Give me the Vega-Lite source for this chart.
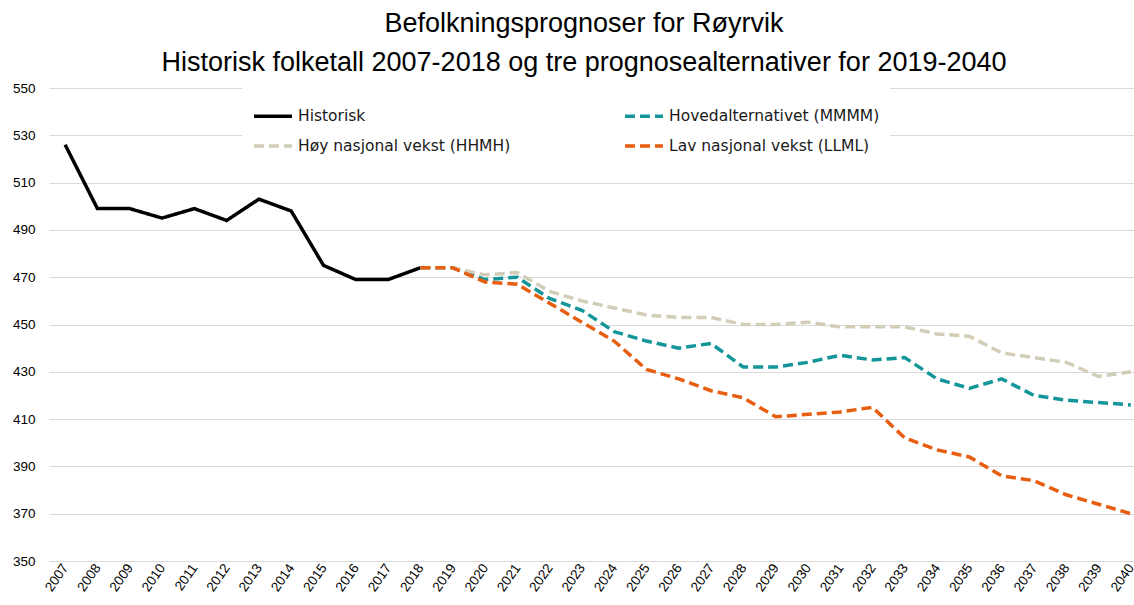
{
  "$schema": "https://vega.github.io/schema/vega-lite/v6.json",
  "width": 1098,
  "height": 473,
  "padding": {"left": 12, "top": 10, "right": 0, "bottom": 0},
  "background": "white",
  "title": {
    "text": ["Befolkningsprognoser for Røyrvik", "Historisk folketall 2007-2018 og tre prognosealternativer for 2019-2040"],
    "font": "Liberation Sans",
    "fontSize": 27,
    "fontWeight": "normal",
    "color": "#000000",
    "anchor": "middle",
    "dx": -14,
    "lineHeight": 39,
    "offset": 4
  },
  "config": {"view": {"stroke": null}},
  "data": {
    "values": [
      {"year": 2007, "series": "Historisk", "value": 526},
      {"year": 2008, "series": "Historisk", "value": 499},
      {"year": 2009, "series": "Historisk", "value": 499},
      {"year": 2010, "series": "Historisk", "value": 495},
      {"year": 2011, "series": "Historisk", "value": 499},
      {"year": 2012, "series": "Historisk", "value": 494},
      {"year": 2013, "series": "Historisk", "value": 503},
      {"year": 2014, "series": "Historisk", "value": 498},
      {"year": 2015, "series": "Historisk", "value": 475},
      {"year": 2016, "series": "Historisk", "value": 469},
      {"year": 2017, "series": "Historisk", "value": 469},
      {"year": 2018, "series": "Historisk", "value": 474},

      {"year": 2018, "series": "Hovedalternativet (MMMM)", "value": 474},
      {"year": 2019, "series": "Hovedalternativet (MMMM)", "value": 474},
      {"year": 2020, "series": "Hovedalternativet (MMMM)", "value": 469},
      {"year": 2021, "series": "Hovedalternativet (MMMM)", "value": 470},
      {"year": 2022, "series": "Hovedalternativet (MMMM)", "value": 461},
      {"year": 2023, "series": "Hovedalternativet (MMMM)", "value": 456},
      {"year": 2024, "series": "Hovedalternativet (MMMM)", "value": 447},
      {"year": 2025, "series": "Hovedalternativet (MMMM)", "value": 443},
      {"year": 2026, "series": "Hovedalternativet (MMMM)", "value": 440},
      {"year": 2027, "series": "Hovedalternativet (MMMM)", "value": 442},
      {"year": 2028, "series": "Hovedalternativet (MMMM)", "value": 432},
      {"year": 2029, "series": "Hovedalternativet (MMMM)", "value": 432},
      {"year": 2030, "series": "Hovedalternativet (MMMM)", "value": 434},
      {"year": 2031, "series": "Hovedalternativet (MMMM)", "value": 437},
      {"year": 2032, "series": "Hovedalternativet (MMMM)", "value": 435},
      {"year": 2033, "series": "Hovedalternativet (MMMM)", "value": 436},
      {"year": 2034, "series": "Hovedalternativet (MMMM)", "value": 427},
      {"year": 2035, "series": "Hovedalternativet (MMMM)", "value": 423},
      {"year": 2036, "series": "Hovedalternativet (MMMM)", "value": 427},
      {"year": 2037, "series": "Hovedalternativet (MMMM)", "value": 420},
      {"year": 2038, "series": "Hovedalternativet (MMMM)", "value": 418},
      {"year": 2039, "series": "Hovedalternativet (MMMM)", "value": 417},
      {"year": 2040, "series": "Hovedalternativet (MMMM)", "value": 416},

      {"year": 2018, "series": "Høy nasjonal vekst (HHMH)", "value": 474},
      {"year": 2019, "series": "Høy nasjonal vekst (HHMH)", "value": 474},
      {"year": 2020, "series": "Høy nasjonal vekst (HHMH)", "value": 471},
      {"year": 2021, "series": "Høy nasjonal vekst (HHMH)", "value": 472},
      {"year": 2022, "series": "Høy nasjonal vekst (HHMH)", "value": 464},
      {"year": 2023, "series": "Høy nasjonal vekst (HHMH)", "value": 460},
      {"year": 2024, "series": "Høy nasjonal vekst (HHMH)", "value": 457},
      {"year": 2025, "series": "Høy nasjonal vekst (HHMH)", "value": 454},
      {"year": 2026, "series": "Høy nasjonal vekst (HHMH)", "value": 453},
      {"year": 2027, "series": "Høy nasjonal vekst (HHMH)", "value": 453},
      {"year": 2028, "series": "Høy nasjonal vekst (HHMH)", "value": 450},
      {"year": 2029, "series": "Høy nasjonal vekst (HHMH)", "value": 450},
      {"year": 2030, "series": "Høy nasjonal vekst (HHMH)", "value": 451},
      {"year": 2031, "series": "Høy nasjonal vekst (HHMH)", "value": 449},
      {"year": 2032, "series": "Høy nasjonal vekst (HHMH)", "value": 449},
      {"year": 2033, "series": "Høy nasjonal vekst (HHMH)", "value": 449},
      {"year": 2034, "series": "Høy nasjonal vekst (HHMH)", "value": 446},
      {"year": 2035, "series": "Høy nasjonal vekst (HHMH)", "value": 445},
      {"year": 2036, "series": "Høy nasjonal vekst (HHMH)", "value": 438},
      {"year": 2037, "series": "Høy nasjonal vekst (HHMH)", "value": 436},
      {"year": 2038, "series": "Høy nasjonal vekst (HHMH)", "value": 434},
      {"year": 2039, "series": "Høy nasjonal vekst (HHMH)", "value": 428},
      {"year": 2040, "series": "Høy nasjonal vekst (HHMH)", "value": 430},

      {"year": 2018, "series": "Lav nasjonal vekst (LLML)", "value": 474},
      {"year": 2019, "series": "Lav nasjonal vekst (LLML)", "value": 474},
      {"year": 2020, "series": "Lav nasjonal vekst (LLML)", "value": 468},
      {"year": 2021, "series": "Lav nasjonal vekst (LLML)", "value": 467},
      {"year": 2022, "series": "Lav nasjonal vekst (LLML)", "value": 459},
      {"year": 2023, "series": "Lav nasjonal vekst (LLML)", "value": 451},
      {"year": 2024, "series": "Lav nasjonal vekst (LLML)", "value": 443},
      {"year": 2025, "series": "Lav nasjonal vekst (LLML)", "value": 431},
      {"year": 2026, "series": "Lav nasjonal vekst (LLML)", "value": 427},
      {"year": 2027, "series": "Lav nasjonal vekst (LLML)", "value": 422},
      {"year": 2028, "series": "Lav nasjonal vekst (LLML)", "value": 419},
      {"year": 2029, "series": "Lav nasjonal vekst (LLML)", "value": 411},
      {"year": 2030, "series": "Lav nasjonal vekst (LLML)", "value": 412},
      {"year": 2031, "series": "Lav nasjonal vekst (LLML)", "value": 413},
      {"year": 2032, "series": "Lav nasjonal vekst (LLML)", "value": 415},
      {"year": 2033, "series": "Lav nasjonal vekst (LLML)", "value": 402},
      {"year": 2034, "series": "Lav nasjonal vekst (LLML)", "value": 397},
      {"year": 2035, "series": "Lav nasjonal vekst (LLML)", "value": 394},
      {"year": 2036, "series": "Lav nasjonal vekst (LLML)", "value": 386},
      {"year": 2037, "series": "Lav nasjonal vekst (LLML)", "value": 384},
      {"year": 2038, "series": "Lav nasjonal vekst (LLML)", "value": 378},
      {"year": 2039, "series": "Lav nasjonal vekst (LLML)", "value": 374},
      {"year": 2040, "series": "Lav nasjonal vekst (LLML)", "value": 370}
    ]
  },
  "mark": {"type": "line", "strokeWidth": 3.5},
  "encoding": {
    "x": {
      "field": "year",
      "type": "ordinal",
      "scale": {"type": "point", "padding": 0.5},
      "axis": {
        "title": null,
        "domain": false,
        "ticks": false,
        "grid": false,
        "labelAngle": -55,
        "labelFont": "Liberation Sans",
        "labelFontSize": 13.5,
        "labelColor": "#000000",
        "labelPadding": 4
      }
    },
    "y": {
      "field": "value",
      "type": "quantitative",
      "scale": {"domain": [350, 550], "nice": false, "zero": false},
      "axis": {
        "title": null,
        "values": [350, 370, 390, 410, 430, 450, 470, 490, 510, 530, 550],
        "domain": false,
        "ticks": false,
        "grid": true,
        "gridColor": "#D9D9D9",
        "gridWidth": 1.2,
        "labelFont": "Liberation Sans",
        "labelFontSize": 13.5,
        "labelColor": "#000000",
        "labelPadding": 14
      }
    },
    "color": {
      "field": "series",
      "type": "nominal",
      "scale": {
        "domain": ["Historisk", "Hovedalternativet (MMMM)", "Høy nasjonal vekst (HHMH)", "Lav nasjonal vekst (LLML)"],
        "range": ["#000000", "#14959A", "#D2CDB6", "#E85E10"]
      },
      "legend": {
        "title": null,
        "orient": "none",
        "legendX": 193,
        "legendY": -3,
        "direction": "horizontal",
        "columns": 2,
        "columnPadding": 107,
        "rowPadding": -11,
        "padding": 10,
        "fillColor": "white",
        "symbolType": "stroke",
        "symbolSize": 1444,
        "symbolStrokeWidth": 3.5,
        "labelFont": "DejaVu Sans",
        "labelFontSize": 15.5,
        "labelColor": "#1A1A1A",
        "labelOffset": 4,
        "labelLimit": 400
      }
    },
    "strokeDash": {
      "field": "series",
      "type": "nominal",
      "scale": {
        "domain": ["Historisk", "Hovedalternativet (MMMM)", "Høy nasjonal vekst (HHMH)", "Lav nasjonal vekst (LLML)"],
        "range": [[1, 0], [10, 5], [10, 5], [10, 5]]
      },
      "legend": {
        "title": null,
        "orient": "none",
        "legendX": 193,
        "legendY": -3,
        "direction": "horizontal",
        "columns": 2,
        "columnPadding": 107,
        "rowPadding": -11,
        "padding": 10,
        "fillColor": "white",
        "symbolType": "stroke",
        "symbolSize": 1444,
        "symbolStrokeWidth": 3.5,
        "labelFont": "DejaVu Sans",
        "labelFontSize": 15.5,
        "labelColor": "#1A1A1A",
        "labelOffset": 4,
        "labelLimit": 400
      }
    }
  }
}
